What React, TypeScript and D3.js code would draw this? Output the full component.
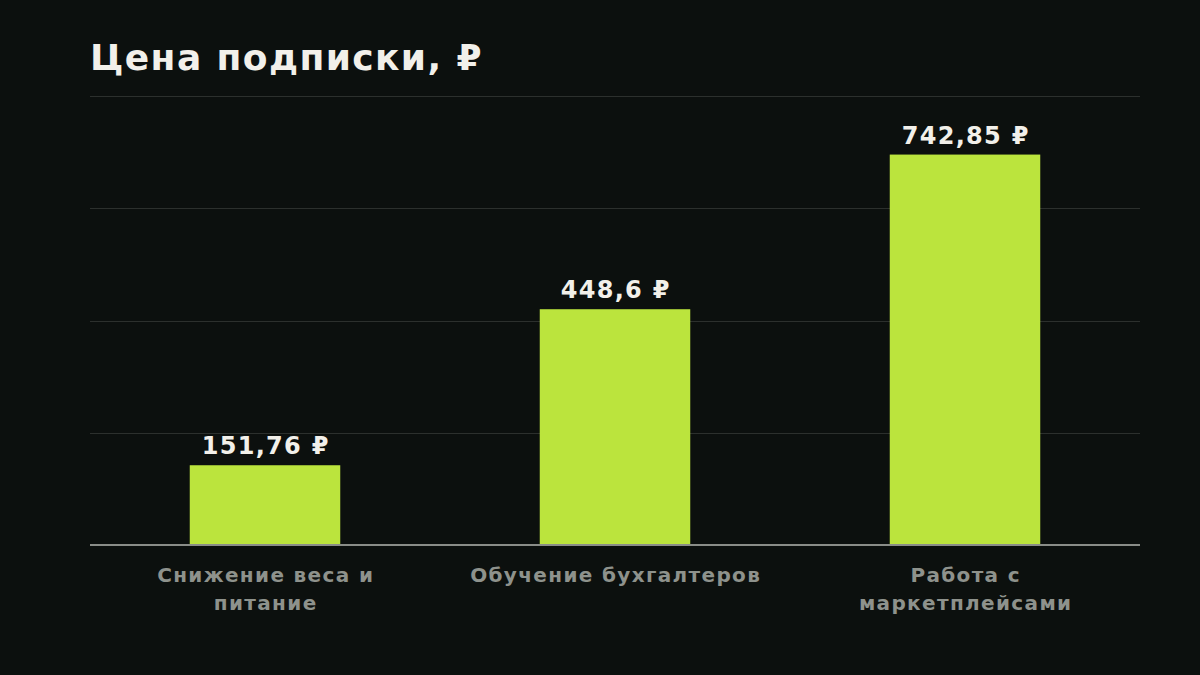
import * as d3 from 'd3'

const categories = [
  ['Снижение веса и', 'питание'],
  ['Обучение бухгалтеров'],
  ['Работа с', 'маркетплейсами'],
]
const values = [151.76, 448.6, 742.85]
const valueLabels = ['151,76 ₽', '448,6 ₽', '742,85 ₽']
const title = 'Цена подписки, ₽'

const width = 1200
const height = 675
const margin = { top: 96, right: 60, bottom: 130, left: 90 }
const font = '"DejaVu Sans", sans-serif'

export default function App() {
  const x = d3
    .scaleBand<number>()
    .domain(values.map((_, i) => i))
    .range([margin.left, width - margin.right])
    .paddingInner(0.57)
    .paddingOuter(0.285)

  const maxV = d3.max(values) ?? 0
  const y = d3
    .scaleLinear()
    .domain([0, maxV * 1.15])
    .range([height - margin.bottom, margin.top])

  const gridTicks = [0.25, 0.5, 0.75, 1].map((f) => f * maxV * 1.15)

  return (
    <svg
      width={width}
      height={height}
      style={{ position: 'fixed', left: 0, top: 0, background: '#0c100e' }}
    >
      <rect width={width} height={height} fill="#0c100e" />
      <text
        x={margin.left}
        y={70}
        fill="#f2f0ea"
        fontFamily={font}
        fontWeight="bold"
        fontSize={36}
        letterSpacing={1.4}
      >
        {title}
      </text>
      {gridTicks.map((t, i) => (
        <line
          key={i}
          x1={margin.left}
          x2={width - margin.right}
          y1={Math.round(y(t)) + 0.5}
          y2={Math.round(y(t)) + 0.5}
          stroke="#2c302d"
          strokeWidth={1}
        />
      ))}
      {values.map((v, i) => (
        <g key={i}>
          <rect
            x={x(i)}
            y={y(v)}
            width={x.bandwidth()}
            height={y(0) - y(v)}
            fill="#bbe43d"
          />
          <text
            x={(x(i) ?? 0) + x.bandwidth() / 2 + 0.7}
            y={y(v) - 11}
            textAnchor="middle"
            fill="#f2f0ea"
            fontFamily={font}
            fontWeight="bold"
            fontSize={24}
            letterSpacing={1.3}
          >
            {valueLabels[i]}
          </text>
          <text
            textAnchor="middle"
            fill="#8e928c"
            fontFamily={font}
            fontWeight="bold"
            fontSize={20}
            letterSpacing={1.35}
          >
            {categories[i].map((line, j) => (
              <tspan
                key={j}
                x={(x(i) ?? 0) + x.bandwidth() / 2 + 0.7}
                y={y(0) + 37 + j * 28}
              >
                {line}
              </tspan>
            ))}
          </text>
        </g>
      ))}
      <line
        x1={margin.left}
        x2={width - margin.right}
        y1={y(0)}
        y2={y(0)}
        stroke="#8a8d88"
        strokeWidth={2}
      />
    </svg>
  )
}
